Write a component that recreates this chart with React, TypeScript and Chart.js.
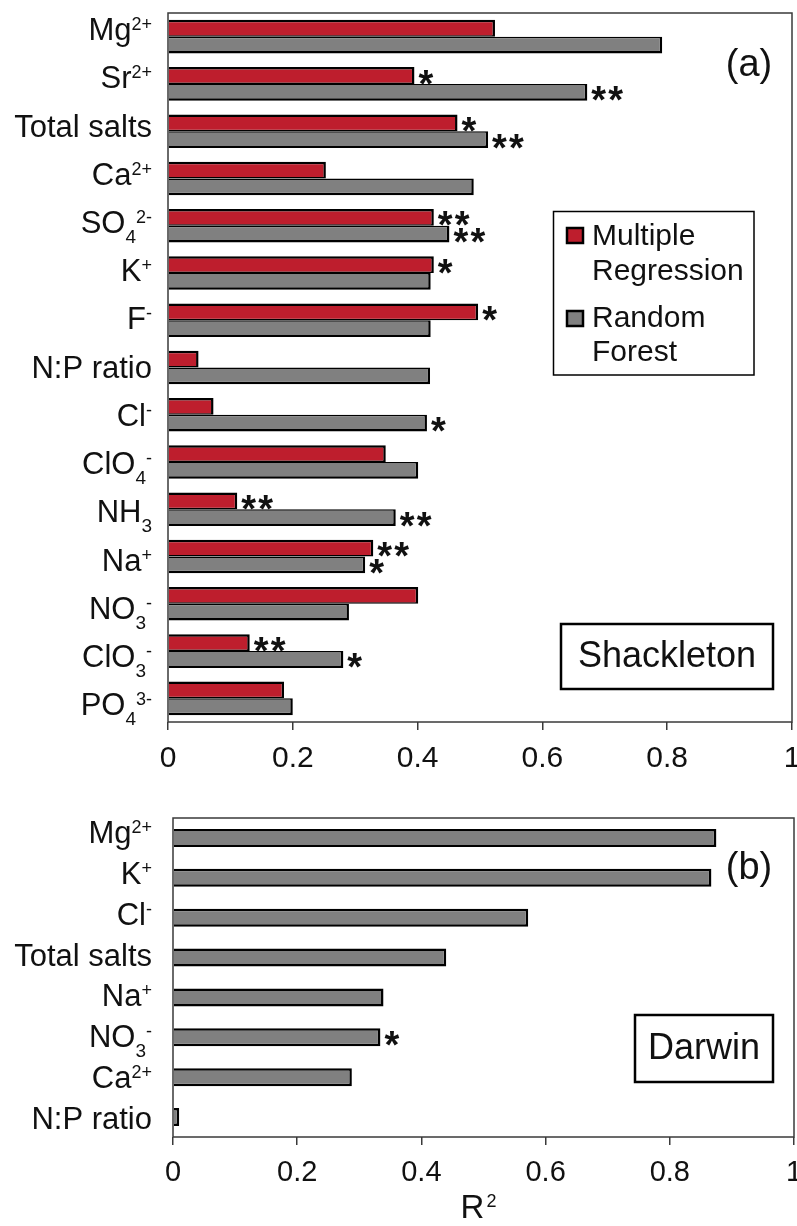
import React, { useEffect, useRef } from "react";
import { Chart, registerables } from "chart.js";

Chart.register(...registerables);

// ---------- DATA ----------
const shackletonCategories = [
  "Mg^{2+}", "Sr^{2+}", "Total salts", "Ca^{2+}", "SO_{4}^{2-}", "K^{+}", "F^{-}", "N:P ratio",
  "Cl^{-}", "ClO_{4}^{-}", "NH_{3}", "Na^{+}", "NO_{3}^{-}", "ClO_{3}^{-}", "PO_{4}^{3-}",
];
const shackletonMR = [0.524, 0.395, 0.464, 0.253, 0.426, 0.426, 0.497, 0.049, 0.073, 0.349, 0.111, 0.329, 0.401, 0.131, 0.186];
const shackletonRF = [0.792, 0.672, 0.513, 0.49, 0.451, 0.421, 0.421, 0.42, 0.415, 0.401, 0.365, 0.316, 0.29, 0.281, 0.2];
const shackletonMRSig = ["", "*", "*", "", "**", "*", "*", "", "", "", "**", "**", "", "**", ""];
const shackletonRFSig = ["", "**", "**", "", "**", "", "", "", "*", "", "**", "*", "", "*", ""];

const darwinCategories = ["Mg^{2+}", "K^{+}", "Cl^{-}", "Total salts", "Na^{+}", "NO_{3}^{-}", "Ca^{2+}", "N:P ratio"];
const darwinRF = [0.875, 0.867, 0.572, 0.44, 0.339, 0.334, 0.288, 0.01];
const darwinRFSig = ["", "", "", "", "", "*", "", ""];

const xTicks = [0, 0.2, 0.4, 0.6, 0.8, 1];
const seriesNames = ["Multiple Regression", "Random Forest"];
const panelTitles = ["(a)", "(b)"];
const siteNames = ["Shackleton", "Darwin"];
const xAxisTitle = ["R", "2"];

// ---------- STYLE ----------
const FAMILY = '"Liberation Sans", Arial, Helvetica, sans-serif';
const RED = "#BE1E2D";
const GRAY = "#808080";
const INK = "#111111";
const FRAME = "#3a3a3a";

type Seg = { t: string; k: "n" | "sub" | "sup" };
function parseLabel(s: string): Seg[] {
  const segs: Seg[] = [];
  const re = /([_^])\{([^}]*)\}|([^_^]+)/g;
  let m: RegExpExecArray | null;
  while ((m = re.exec(s))) {
    if (m[3]) segs.push({ t: m[3], k: "n" });
    else segs.push({ t: m[2], k: m[1] === "_" ? "sub" : "sup" });
  }
  return segs;
}
function plain(s: string) {
  return parseLabel(s).map((x) => x.t).join("");
}

function segFont(k: string, base: number) {
  if (k === "sup") return `18px ${FAMILY}`;
  if (k === "sub") return `19px ${FAMILY}`;
  return `${base}px ${FAMILY}`;
}
function segDy(k: string) {
  if (k === "sup") return -10;
  if (k === "sub") return 10;
  return 0;
}

function drawRich(ctx: CanvasRenderingContext2D, label: string, right: number, baseline: number, base: number) {
  const segs = parseLabel(label);
  let total = 0;
  const widths = segs.map((s) => {
    ctx.font = segFont(s.k, base);
    const w = ctx.measureText(s.t).width;
    total += w;
    return w;
  });
  let x = right - total;
  ctx.textAlign = "left";
  ctx.textBaseline = "alphabetic";
  ctx.fillStyle = INK;
  segs.forEach((s, i) => {
    ctx.font = segFont(s.k, base);
    ctx.fillText(s.t, x, baseline + segDy(s.k));
    x += widths[i];
  });
}

type PanelOpts = {
  categories: string[];
  sigs: string[][];
  labelRight: number;
  labelOffset: (i: number) => number;
  extra: (chart: any, ctx: CanvasRenderingContext2D) => void;
};

function makePlugin(o: PanelOpts) {
  return {
    id: "panelDecor",
    afterDraw(chart: any) {
      const ctx: CanvasRenderingContext2D = chart.ctx;
      const { left, right, top, bottom } = chart.chartArea;
      const yScale = chart.scales.y;
      ctx.save();
      // frame
      ctx.strokeStyle = FRAME;
      ctx.lineWidth = 1.5;
      ctx.strokeRect(left, top, right - left, bottom - top);
      // category labels
      o.categories.forEach((c, i) => {
        const y = yScale.getPixelForValue(i);
        drawRich(ctx, c, o.labelRight, y + o.labelOffset(i), 31);
      });
      // significance stars
      chart.data.datasets.forEach((_: any, di: number) => {
        const sig = o.sigs[di];
        if (!sig) return;
        const meta = chart.getDatasetMeta(di);
        meta.data.forEach((bar: any, i: number) => {
          const s = sig[i];
          if (!s) return;
          const p = bar.getProps(["x", "y"], true);
          ctx.font = `bold 38px ${FAMILY}`;
          ctx.fillStyle = INK;
          ctx.textAlign = "left";
          ctx.textBaseline = "alphabetic";
          for (let k = 0; k < s.length; k++) {
            ctx.fillText("*", p.x + 4 + k * 17, p.y + 21);
          }
        });
      });
      o.extra(chart, ctx);
      ctx.restore();
    },
  };
}

function boxedText(ctx: CanvasRenderingContext2D, x: number, y: number, w: number, h: number, text: string, size: number) {
  ctx.strokeStyle = "#000";
  ctx.lineWidth = 2.5;
  ctx.strokeRect(x, y, w, h);
  ctx.font = `${size}px ${FAMILY}`;
  ctx.fillStyle = INK;
  ctx.textAlign = "center";
  ctx.textBaseline = "middle";
  ctx.fillText(text, x + w / 2, y + h / 2 + 1);
}

function xScaleOpts(height: number, fontSize: number) {
  return {
    type: "linear" as const,
    position: "bottom" as const,
    min: 0,
    max: 1,
    afterBuildTicks: (s: any) => {
      s.ticks = xTicks.map((v) => ({ value: v }));
    },
    afterFit: (s: any) => {
      s.height = height;
      s.paddingLeft = 0;
      s.paddingRight = 0;
    },
    grid: { display: true, drawOnChartArea: false, drawTicks: true, tickLength: 8, color: FRAME, lineWidth: 1.5 },
    border: { display: false },
    ticks: {
      font: { family: FAMILY, size: fontSize },
      color: INK,
      padding: 11,
      maxRotation: 0,
      autoSkip: false,
      callback: (v: any) => String(v),
    },
  };
}

export default function App() {
  const topRef = useRef<HTMLCanvasElement | null>(null);
  const botRef = useRef<HTMLCanvasElement | null>(null);

  useEffect(() => {
    if (!topRef.current || !botRef.current) return;

    const topPlugin = makePlugin({
      categories: shackletonCategories,
      sigs: [shackletonMRSig, shackletonRFSig],
      labelRight: 152,
      labelOffset: (i) => 3.5 + i * 0.95,
      extra: (chart, ctx) => {
        const { right, top } = chart.chartArea;
        // panel title
        ctx.font = `38px ${FAMILY}`;
        ctx.fillStyle = INK;
        ctx.textAlign = "center";
        ctx.textBaseline = "middle";
        ctx.fillText(panelTitles[0], right - 43, top + 53);
        // legend
        const lx = right - 238.5;
        const ly = top + 198.5;
        ctx.strokeStyle = "#000";
        ctx.lineWidth = 1.5;
        ctx.strokeRect(lx, ly, 200.5, 163.5);
        const colors = [RED, GRAY];
        const sqY = [top + 215, top + 298];
        const baselines = [
          [top + 232, top + 267],
          [top + 314, top + 348],
        ];
        seriesNames.forEach((name, k) => {
          ctx.fillStyle = colors[k];
          ctx.fillRect(right - 225, sqY[k], 16, 15);
          ctx.strokeStyle = "#000";
          ctx.lineWidth = 2.5;
          ctx.strokeRect(right - 225, sqY[k], 16, 15);
          ctx.fillStyle = INK;
          ctx.font = `30px ${FAMILY}`;
          ctx.textAlign = "left";
          ctx.textBaseline = "alphabetic";
          name.split(" ").forEach((w, j) => {
            ctx.fillText(w, right - 200, baselines[k][j]);
          });
        });
        // site box
        boxedText(ctx, right - 231, top + 611, 212, 65, siteNames[0], 36);
      },
    });

    const topChart = new Chart(topRef.current, {
      type: "bar",
      data: {
        labels: shackletonCategories.map(plain),
        datasets: [
          {
            label: seriesNames[0],
            data: shackletonMR,
            backgroundColor: RED,
            borderColor: "#000",
            borderWidth: { top: 2.5, right: 2.5, bottom: 1.5, left: 0 } as any,
            categoryPercentage: 0.71,
            barPercentage: 1.0,
          },
          {
            label: seriesNames[1],
            data: shackletonRF,
            backgroundColor: GRAY,
            borderColor: "#000",
            borderWidth: { top: 1.5, right: 2.5, bottom: 2.5, left: 0 } as any,
            categoryPercentage: 0.71,
            barPercentage: 1.0,
          },
        ],
      },
      options: {
        animation: false,
        responsive: false,
        indexAxis: "y",
        layout: { padding: { top: 13, right: 5, left: 0, bottom: 0 } },
        plugins: { legend: { display: false }, tooltip: { enabled: false } },
        scales: {
          x: xScaleOpts(58, 30) as any,
          y: {
            type: "category",
            afterFit: (s: any) => {
              s.width = 168;
            },
            grid: { display: false },
            border: { display: false },
            ticks: { display: false },
          },
        },
      },
      plugins: [topPlugin],
    });

    const botPlugin = makePlugin({
      categories: darwinCategories,
      sigs: [darwinRFSig],
      labelRight: 152,
      labelOffset: (i) => 5.3 + i * 0.9,
      extra: (chart, ctx) => {
        const { left, right, top, bottom } = chart.chartArea;
        ctx.font = `38px ${FAMILY}`;
        ctx.fillStyle = INK;
        ctx.textAlign = "center";
        ctx.textBaseline = "middle";
        ctx.fillText(panelTitles[1], right - 45, top + 51);
        boxedText(ctx, right - 159, top + 197, 138, 67, siteNames[1], 36);
        // axis title R^2
        ctx.textAlign = "left";
        ctx.textBaseline = "alphabetic";
        ctx.font = `33px ${FAMILY}`;
        const wR = ctx.measureText(xAxisTitle[0]).width;
        ctx.font = `18px ${FAMILY}`;
        const w2 = ctx.measureText(xAxisTitle[1]).width;
        const x0 = (left + right) / 2 - (wR + w2 + 2) / 2 - 5;
        const base = bottom + 81;
        ctx.font = `33px ${FAMILY}`;
        ctx.fillText(xAxisTitle[0], x0, base);
        ctx.font = `18px ${FAMILY}`;
        ctx.fillText(xAxisTitle[1], x0 + wR + 2, base - 11);
      },
    });

    const botChart = new Chart(botRef.current, {
      type: "bar",
      data: {
        labels: darwinCategories.map(plain),
        datasets: [
          {
            label: seriesNames[1],
            data: darwinRF,
            backgroundColor: GRAY,
            borderColor: "#000",
            borderWidth: 2.5,
            categoryPercentage: 0.45,
            barPercentage: 1.0,
          },
        ],
      },
      options: {
        animation: false,
        responsive: false,
        indexAxis: "y",
        layout: { padding: { top: 38, right: 3, left: 0, bottom: 0 } },
        plugins: { legend: { display: false }, tooltip: { enabled: false } },
        scales: {
          x: xScaleOpts(89, 29) as any,
          y: {
            type: "category",
            afterFit: (s: any) => {
              s.width = 173;
            },
            grid: { display: false },
            border: { display: false },
            ticks: { display: false },
          },
        },
      },
      plugins: [botPlugin],
    });

    return () => {
      topChart.destroy();
      botChart.destroy();
    };
  }, []);

  return (
    <div style={{ position: "absolute", left: 0, top: 0, width: 797, height: 1226, background: "#fff" }}>
      <canvas ref={topRef} width={797} height={780} style={{ position: "absolute", left: 0, top: 0 }} />
      <canvas ref={botRef} width={797} height={446} style={{ position: "absolute", left: 0, top: 780 }} />
    </div>
  );
}
